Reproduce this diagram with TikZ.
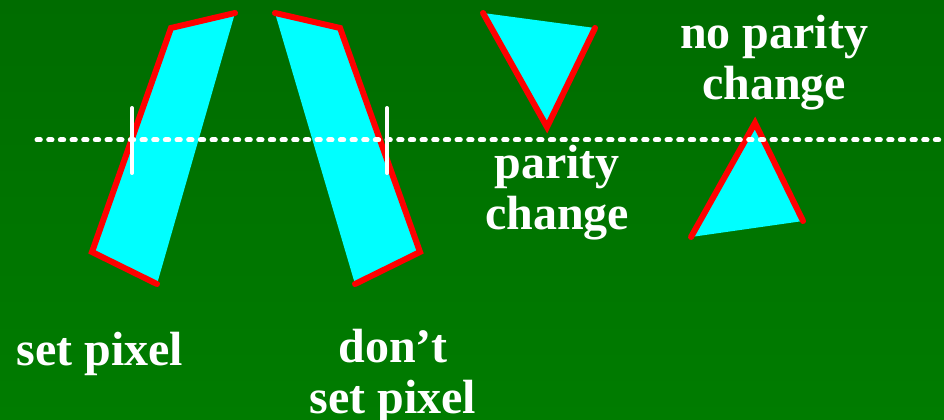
\documentclass[tikz,border=0pt]{standalone}
\usepackage{fontspec}
\setmainfont{Liberation Serif}
\definecolor{bgtop}{RGB}{0,108,0}
\definecolor{bgbot}{RGB}{0,124,0}
\definecolor{aqua}{RGB}{0,255,255}
\definecolor{pred}{RGB}{255,0,0}
\tikzset{
  poly/.style={fill=aqua},
  edge/.style={draw=pred, line width=4.5pt, line cap=round, line join=miter},
  tick/.style={draw=white, line width=3pt, line cap=round},
  scan/.style={draw=white, line width=3.75pt, line cap=round, dash pattern=on 2.5pt off 6.25pt},
  lbl/.style={text=white, font=\fontsize{36}{38.25}\selectfont\bfseries, align=center, inner sep=0pt, anchor=base}
}
\begin{document}
\begin{tikzpicture}[x=0.75pt, y=-0.75pt]
\useasboundingbox (0,0) rectangle (944,420);
\shade[top color=bgtop, bottom color=bgbot] (0,0) rectangle (944,420);
% left trapezoid
\coordinate (a1) at (235,13); \coordinate (a2) at (171,28);
\coordinate (a3) at (92,252); \coordinate (a4) at (157,284);
\fill[poly] (a1) -- (a2) -- (a3) -- (a4) -- cycle;
\draw[edge] (a1) -- (a2) -- (a3) -- (a4);
% right trapezoid
\coordinate (b1) at (275,13); \coordinate (b2) at (340,28);
\coordinate (b3) at (420,252); \coordinate (b4) at (355,284);
\fill[poly] (b1) -- (b2) -- (b3) -- (b4) -- cycle;
\draw[edge] (b1) -- (b2) -- (b3) -- (b4);
% down triangle
\coordinate (c1) at (483,13); \coordinate (c2) at (595,28); \coordinate (c3) at (547,127);
\fill[poly] (c1) -- (c2) -- (c3) -- cycle;
\draw[edge] (c2) -- (c3) -- (c1);
% up triangle
\coordinate (d1) at (691,237); \coordinate (d2) at (755,123); \coordinate (d3) at (803,221);
\fill[poly] (d1) -- (d2) -- (d3) -- cycle;
\draw[edge] (d1) -- (d2) -- (d3);
% scan line
\coordinate (s1) at (37,140); \coordinate (s2) at (944,140);
\draw[scan] (s1) -- (s2);
% ticks
\coordinate (t1a) at (132,108); \coordinate (t1b) at (132,173);
\coordinate (t2a) at (387,108); \coordinate (t2b) at (387,173);
\draw[tick] (t1a) -- (t1b);
\draw[tick] (t2a) -- (t2b);
% labels (base = baseline of last line)
\node[lbl] (l1) at (774,100) {no parity\\change};
\node[lbl] (l2) at (557,229) {parity\\change};
\node[lbl] (l3) at (100,365) {set pixel};
\node[lbl] (l4) at (393,413) {don’t\\set pixel};
\end{tikzpicture}
\end{document}
